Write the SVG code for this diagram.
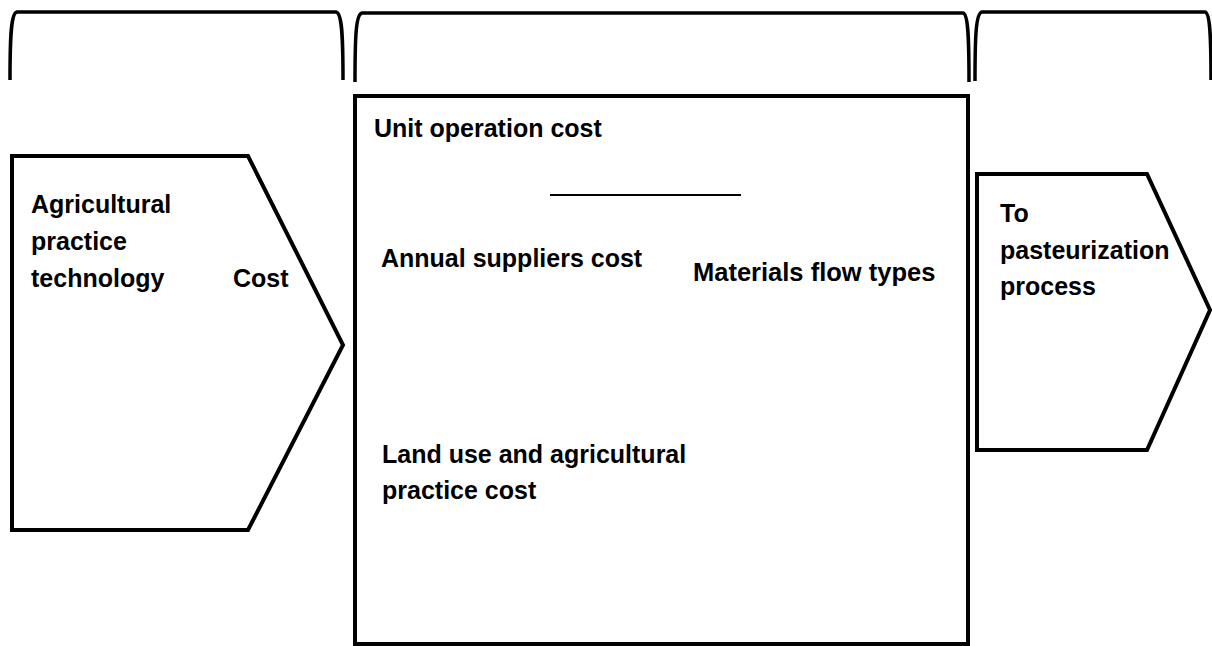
<svg xmlns="http://www.w3.org/2000/svg" width="1212" height="646" viewBox="0 0 1212 646">
<style>
.shape{fill:#ffffff;stroke:#000000;stroke-width:4;stroke-linejoin:miter}
.brace{fill:none;stroke:#000000;stroke-width:3.5;stroke-linecap:butt}
.line{stroke:#000000;stroke-width:2}
text{font-family:"Liberation Sans",Arial,sans-serif;font-weight:bold;font-size:25px;fill:#000000}
</style>
<rect width="1212" height="646" fill="#ffffff"/>
<g id="braces">
<path class="brace" d="M10,80 C10,35 11,13 17,12 L336,12 C342,13 343,35 343,80"/>
<path class="brace" d="M355,82 C355,35 356,14 362,13 L963,13 C968,14 969,35 969,82"/>
<path class="brace" d="M975,81 C975,35 976,13 982,12 L1205,12 C1210,13 1211,35 1211,80"/>
</g>
<g id="node-agricultural">
<path class="shape" d="M12,156 L248,156 L343,345 L248,530 L12,530 Z"/>
<text x="31" y="213">Agricultural</text>
<text x="31" y="250">practice</text>
<text x="31" y="287">technology</text>
<text x="233" y="287">Cost</text>
</g>
<g id="node-unit">
<rect class="shape" x="355" y="96" width="613" height="548"/>
<text x="374" y="137">Unit operation cost</text>
<text x="381" y="267">Annual suppliers cost</text>
<text x="693" y="281" style="font-size:25.5px">Materials flow types</text>
<text x="382" y="463">Land use and agricultural</text>
<text x="382" y="499">practice cost</text>
</g>
<g id="connectors">
<line class="line" x1="550" y1="195" x2="741" y2="195"/>
</g>
<g id="node-pasteurization">
<path class="shape" d="M977,174 L1147,174 L1210,310 L1147,450 L977,450 Z"/>
<text x="1000" y="222">To</text>
<text x="1000" y="259">pasteurization</text>
<text x="1000" y="295">process</text>
</g>
</svg>
